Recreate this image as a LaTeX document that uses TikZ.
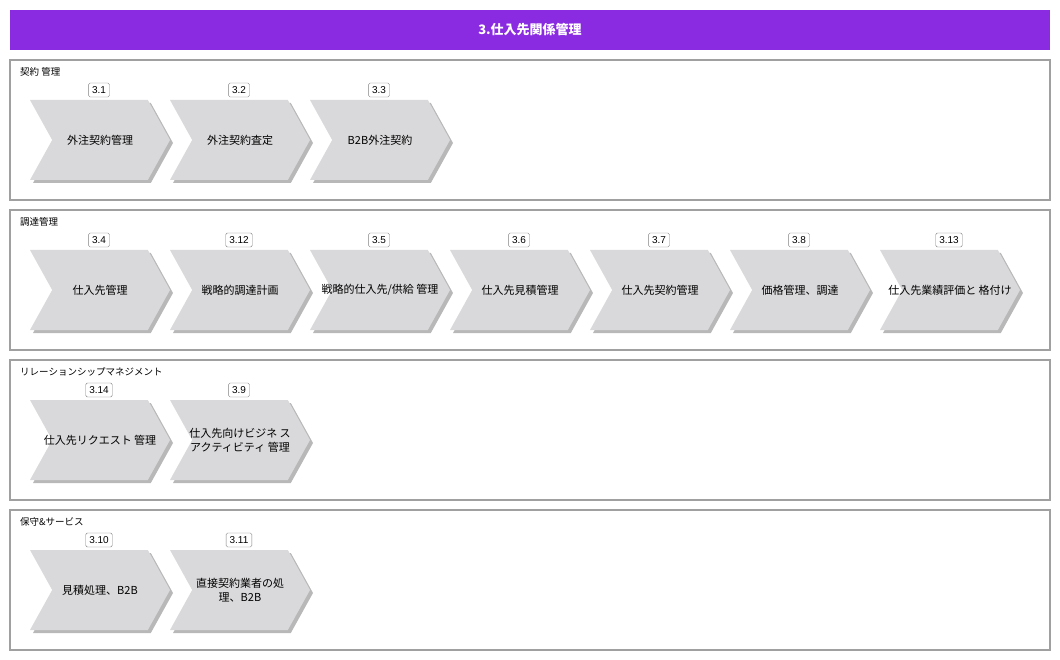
\documentclass[tikz,border=0pt]{standalone}
\usepackage{fontspec}
\setmainfont{Noto Sans CJK JP}
\newfontfamily\numfont{Liberation Sans}
\usetikzlibrary{shapes.symbols,shadows}
\definecolor{headviolet}{HTML}{8A2BE2}
\definecolor{chevgray}{HTML}{D9D9DB}
\definecolor{lanegray}{HTML}{A0A0A0}
\definecolor{numgray}{HTML}{7F7F7F}
\begin{document}
\begin{tikzpicture}[x=1pt,y=-1pt,
  head/.style={fill=headviolet,minimum width=1040pt,minimum height=40pt,inner sep=0pt,text=white,font=\bfseries\fontsize{13}{15}\selectfont},
  lane/.style={draw=lanegray,line width=1.5pt,minimum width=1040pt,minimum height=140pt,inner sep=0pt},
  lanetitle/.style={anchor=west,inner sep=0pt,font=\fontsize{9.5}{11}\selectfont},
  proc/.style={signal,signal from=west,signal to=east,signal pointer angle=122,fill=chevgray,minimum width=140pt,minimum height=80pt,inner sep=0pt,drop shadow={shadow xshift=3pt,shadow yshift=-3pt,fill=black!28,opacity=1}},
  ptext/.style={align=center,inner sep=0pt,font=\fontsize{11}{14}\selectfont},
  num/.style={draw=numgray,rounded corners=1.5pt,fill=white,minimum height=14pt,inner xsep=3.5pt,inner ysep=1.5pt,font=\numfont\fontsize{10}{11}\selectfont}]
\useasboundingbox (0,0) rectangle (1060,660);
\node[head] (title) at (530,30) {3.仕入先関係管理};
% lanes
\node[lane] (lane1) at (530,130) {};
\node[lane] (lane2) at (530,280) {};
\node[lane] (lane3) at (530,430) {};
\node[lane] (lane4) at (530,580) {};
\node[lanetitle] (lt1) at (20,72) {契約 管理};
\node[lanetitle] (lt2) at (20,222) {調達管理};
\node[lanetitle] (lt3) at (20,372) {リレーションシップマネジメント};
\node[lanetitle] (lt4) at (20,522) {保守\&サービス};
% lane 1
\node[proc] (p31) at (100,140) {};  \node[ptext] (t31) at (p31) {外注契約管理};  \node[num] (n31) at (99,90) {3.1};
\node[proc] (p32) at (240,140) {};  \node[ptext] (t32) at (p32) {外注契約査定};  \node[num] (n32) at (239,90) {3.2};
\node[proc] (p33) at (380,140) {};  \node[ptext] (t33) at (p33) {B2B外注契約};  \node[num] (n33) at (379,90) {3.3};
% lane 2
\node[proc] (p34) at (100,290) {};  \node[ptext] (t34) at (p34) {仕入先管理};  \node[num] (n34) at (99,240) {3.4};
\node[proc] (p312) at (240,290) {}; \node[ptext] (t312) at (p312) {戦略的調達計画};  \node[num] (n312) at (239,240) {3.12};
\node[proc] (p35) at (380,290) {};  \node[ptext] (t35) at (p35) {戦略的仕入先/供給 管理};  \node[num] (n35) at (379,240) {3.5};
\node[proc] (p36) at (520,290) {};  \node[ptext] (t36) at (p36) {仕入先見積管理};  \node[num] (n36) at (519,240) {3.6};
\node[proc] (p37) at (660,290) {};  \node[ptext] (t37) at (p37) {仕入先契約管理};  \node[num] (n37) at (659,240) {3.7};
\node[proc] (p38) at (800,290) {};  \node[ptext] (t38) at (p38) {価格管理、調達};  \node[num] (n38) at (799,240) {3.8};
\node[proc] (p313) at (950,290) {}; \node[ptext] (t313) at (p313) {仕入先業績評価と 格付け};  \node[num] (n313) at (949,240) {3.13};
% lane 3
\node[proc] (p314) at (100,440) {}; \node[ptext] (t314) at (p314) {仕入先リクエスト 管理};  \node[num] (n314) at (99,390) {3.14};
\node[proc] (p39) at (240,440) {};  \node[ptext] (t39) at (p39) {仕入先向けビジネ ス\\アクティビティ 管理};  \node[num] (n39) at (239,390) {3.9};
% lane 4
\node[proc] (p310) at (100,590) {}; \node[ptext] (t310) at (p310) {見積処理、B2B};  \node[num] (n310) at (99,540) {3.10};
\node[proc] (p311) at (240,590) {}; \node[ptext] (t311) at (p311) {直接契約業者の処\\理、B2B};  \node[num] (n311) at (239,540) {3.11};
\end{tikzpicture}
\end{document}
